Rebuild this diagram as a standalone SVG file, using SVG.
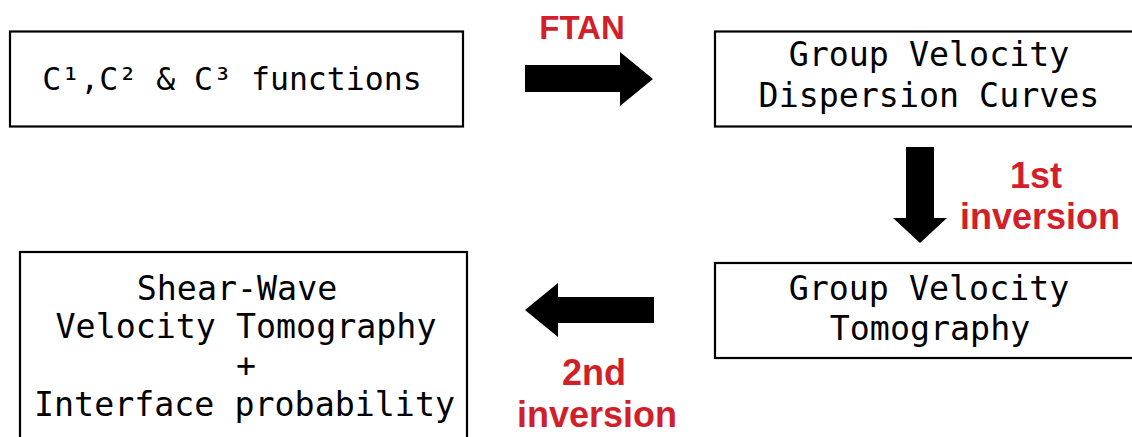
<svg xmlns="http://www.w3.org/2000/svg" width="1132" height="437" viewBox="0 0 1132 437">
<style>
.box{fill:#fff;stroke:#000;stroke-width:2.2}
.t{font-family:"DejaVu Sans Mono",monospace;font-size:33.3px;fill:#000;text-anchor:middle}
.r{font-family:"Liberation Sans",Arial,sans-serif;font-weight:bold;font-size:36px;fill:#d21f2a;text-anchor:middle}
.a{fill:#000}
</style>
<rect width="1132" height="437" fill="#fff"/>
<g id="n1">
<rect class="box" x="10" y="31.5" width="453" height="95"/>
<text class="t" x="232" y="90" style="font-size:31.5px">C¹,C² &amp; C³ functions</text>
</g>
<g id="n2">
<rect class="box" x="715" y="31.5" width="430" height="95"/>
<text class="t" x="929" y="66">Group Velocity</text>
<text class="t" x="929" y="107">Dispersion Curves</text>
</g>
<g id="n3">
<rect class="box" x="715" y="263" width="430" height="95"/>
<text class="t" x="929" y="300">Group Velocity</text>
<text class="t" x="930" y="340">Tomography</text>
</g>
<g id="n4">
<rect class="box" x="20" y="252" width="447" height="200"/>
<text class="t" x="237" y="300">Shear-Wave</text>
<text class="t" x="246" y="338">Velocity Tomography</text>
<text class="t" x="246" y="377">+</text>
<text class="t" x="244.5" y="416">Interface probability</text>
</g>
<g id="connectors">
<polygon class="a" points="525,65 620,65 620,52 653,79 620,106 620,92 525,92"/>
<polygon class="a" points="906,147 934,147 934,218 947,218 920,243 893,218 906,218"/>
<polygon class="a" points="654,297 558,297 558,283 525,310 558,337 558,323 654,323"/>
<text class="r" x="582" y="39" style="font-size:33px">FTAN</text>
<text class="r" x="1036" y="188">1st</text>
<text class="r" x="1040" y="229">inversion</text>
<text class="r" x="594" y="385">2nd</text>
<text class="r" x="597" y="427">inversion</text>
</g>
</svg>
